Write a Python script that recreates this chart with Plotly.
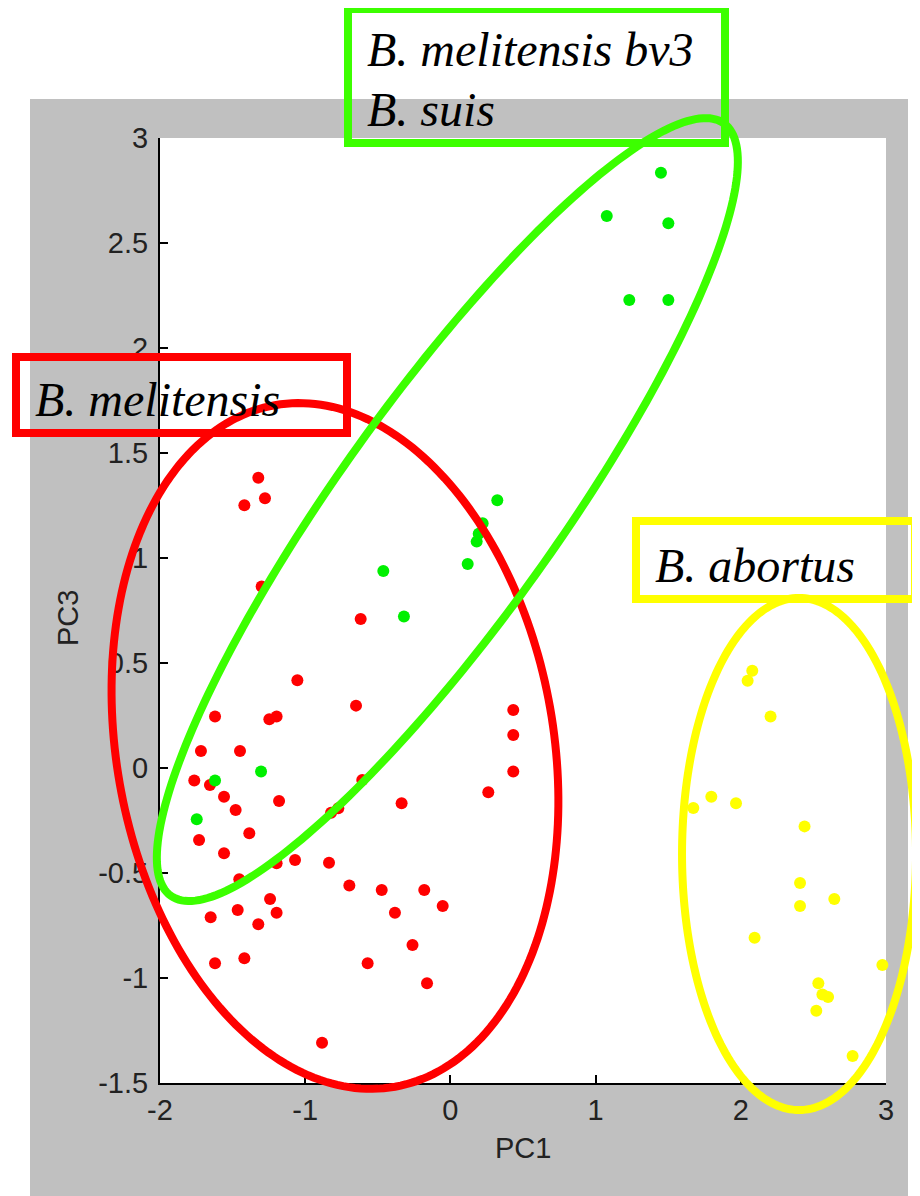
import numpy as np
import plotly.graph_objects as go

# ---------------- data ----------------
red_x = [-1.323, -1.419, -1.277, -1.300, -0.618, -1.054, -0.650, -1.621, -1.247, -1.197,
         0.433, 0.433, 0.433, -1.718, -1.449, -1.764, -1.656, -1.559, -1.479, -1.180,
         -0.607, -0.822, -0.772, 0.261, -0.336, -1.385, -1.731, -1.559, -1.197, -1.070,
         -0.836, -1.454, -0.696, -0.473, -0.180, -1.242, -0.053, -0.382, -1.465, -1.197,
         -1.651, -1.323, -0.261, -1.621, -1.419, -0.570, -0.161, -0.884]
red_y = [1.382, 1.251, 1.284, 0.864, 0.710, 0.418, 0.297, 0.245, 0.232, 0.245,
         0.276, 0.157, -0.017, 0.081, 0.081, -0.060, -0.081, -0.137, -0.200, -0.157,
         -0.057, -0.213, -0.192, -0.116, -0.168, -0.311, -0.343, -0.406, -0.454, -0.438,
         -0.451, -0.530, -0.560, -0.581, -0.581, -0.624, -0.657, -0.689, -0.676, -0.689,
         -0.711, -0.744, -0.843, -0.930, -0.906, -0.930, -1.025, -1.308]

green_x = [-0.462, -0.320, 0.119, 0.181, 0.195, 0.222, 0.323, -1.304, -1.621, -1.747,
           1.450, 1.077, 1.501, 1.232, 1.501]
green_y = [0.938, 0.721, 0.971, 1.078, 1.115, 1.165, 1.275, -0.017, -0.060, -0.244,
           2.835, 2.629, 2.594, 2.229, 2.229]

yellow_x = [2.079, 2.047, 2.205, 1.797, 1.673, 1.967, 2.439, 2.408, 2.644, 2.408,
            2.095, 2.975, 2.534, 2.562, 2.601, 2.520, 2.770]
yellow_y = [0.463, 0.416, 0.245, -0.137, -0.190, -0.168, -0.278, -0.548, -0.624, -0.657,
            -0.808, -0.938, -1.025, -1.079, -1.090, -1.156, -1.371]

x_tickvals = [-2, -1, 0, 1, 2, 3]
x_ticktext = ["-2", "-1", "0", "1", "2", "3"]
y_tickvals = [3, 2.5, 2, 1.5, 1, 0.5, 0, -0.5, -1, -1.5]
y_ticktext = ["3", "2.5", "2", "1.5", "1", "0.5", "0", "-0.5", "-1", "-1.5"]

group_labels = ["<i>B. melitensis</i>", "<i>B. melitensis bv3</i>", "<i>B. suis</i>", "<i>B. abortus</i>"]

# ---------------- layout geometry ----------------
# the page body has an 8px margin; geometry below is in target-picture pixels
OFF = 8
W, H = 920 - OFF, 1196 - OFF
L, R, T, B = 160, 886, 138, 1083          # plot-area pixel box (picture pixels)
XR = [-2, 3]
YR = [-1.5, 3]

RED = "#FF0000"
GREEN_PT = "#00F000"
GREEN_LN = "#3CFF00"
YELLOW = "#FFFF00"


def d2px(x, y):
    px = L + (x - XR[0]) / (XR[1] - XR[0]) * (R - L)
    py = B - (y - YR[0]) / (YR[1] - YR[0]) * (B - T)
    return px, py


def px2paper(px, py):
    return (px - L) / (R - L), (B - py) / (B - T)


def ellipse_path(cx_d, cy_d, a, b, ang_deg, n=241):
    cx, cy = d2px(cx_d, cy_d)
    t = np.linspace(0, 2 * np.pi, n)
    th = np.radians(ang_deg)
    ex, ey = a * np.cos(t), b * np.sin(t)
    px = cx + ex * np.cos(th) - ey * np.sin(th)
    py = cy - (ex * np.sin(th) + ey * np.cos(th))
    pts = [px2paper(u, v) for u, v in zip(px, py)]
    return "M " + " L ".join(f"{u:.5f},{v:.5f}" for u, v in pts) + " Z"


def rect_shape(x0, y0, x1, y1, color, width=8, fill=None, layer="above"):
    p0 = px2paper(x0, y1)
    p1 = px2paper(x1, y0)
    d = dict(type="rect", xref="paper", yref="paper", x0=p0[0], y0=p0[1], x1=p1[0], y1=p1[1],
             layer=layer)
    if fill is None:
        d["line"] = dict(color=color, width=width)
        d["fillcolor"] = "rgba(0,0,0,0)"
    else:
        d["line"] = dict(width=0)
        d["fillcolor"] = fill
    return d


fig = go.Figure()
fig.add_trace(go.Scatter(x=red_x, y=red_y, mode="markers",
                         marker=dict(color=RED, size=12, line=dict(width=0)), cliponaxis=False))
fig.add_trace(go.Scatter(x=green_x, y=green_y, mode="markers",
                         marker=dict(color=GREEN_PT, size=12, line=dict(width=0)), cliponaxis=False))
fig.add_trace(go.Scatter(x=yellow_x, y=yellow_y, mode="markers",
                         marker=dict(color=YELLOW, size=12, line=dict(width=0)), cliponaxis=False))

shapes = [
    rect_shape(30, 99, 908, 1300, None, fill="#C0C0C0", layer="below"),
    rect_shape(L, T, R, B, None, fill="#FFFFFF", layer="below"),
    dict(type="path", xref="paper", yref="paper", path=ellipse_path(-0.795, 0.105, 346, 218.5, 100),
         line=dict(color=RED, width=8), layer="above"),
    dict(type="path", xref="paper", yref="paper", path=ellipse_path(-0.021, 1.2305, 475, 109.6, 54.4),
         line=dict(color=GREEN_LN, width=8), layer="above"),
    dict(type="path", xref="paper", yref="paper", path=ellipse_path(2.401, -0.4095, 256, 117, 90),
         line=dict(color=YELLOW, width=8), layer="above"),
    rect_shape(16, 357, 347, 433, RED),
    rect_shape(348, 9, 725, 143, GREEN_LN),
    rect_shape(636, 521, 915, 599, YELLOW),
]

annots = []
for txt, (px, py) in zip(group_labels, [(33, 399), (365, 50), (365, 109), (653, 565)]):
    ax, ay = px2paper(px, py)
    annots.append(dict(text=txt, x=ax, y=ay, xref="paper", yref="paper", xanchor="left",
                       yanchor="middle", align="left", showarrow=False,
                       font=dict(family="Liberation Serif", size=48, color="black")))

ax_, ay_ = px2paper(523, 1148)
annots.append(dict(text="PC1", x=ax_, y=ay_, xref="paper", yref="paper", showarrow=False,
                   xanchor="center", yanchor="middle",
                   font=dict(family="Liberation Sans", size=29, color="#222222")))
ax_, ay_ = px2paper(68, 618)
annots.append(dict(text="PC3", x=ax_, y=ay_, xref="paper", yref="paper", showarrow=False,
                   xanchor="center", yanchor="middle", textangle=-90,
                   font=dict(family="Liberation Sans", size=29, color="#222222")))

axis_common = dict(showgrid=False, zeroline=False, showline=True, linecolor="black", linewidth=2,
                   ticks="inside", ticklen=8, tickwidth=1.5, tickcolor="black",
                   tickfont=dict(family="Liberation Sans", size=29, color="#222222"),
                   mirror=False)

fig.update_layout(
    width=W, height=H,
    margin=dict(l=L - OFF, r=W - (R - OFF), t=T - OFF, b=H - (B - OFF), pad=0),
    paper_bgcolor="white", plot_bgcolor="rgba(0,0,0,0)",
    showlegend=False,
    shapes=shapes, annotations=annots,
    xaxis=dict(range=XR, tickvals=x_tickvals, ticktext=x_ticktext, **axis_common),
    yaxis=dict(range=YR, tickvals=y_tickvals, ticktext=y_ticktext, ticklabelstandoff=4,
               **axis_common),
)

fig.write_html("out.html")
